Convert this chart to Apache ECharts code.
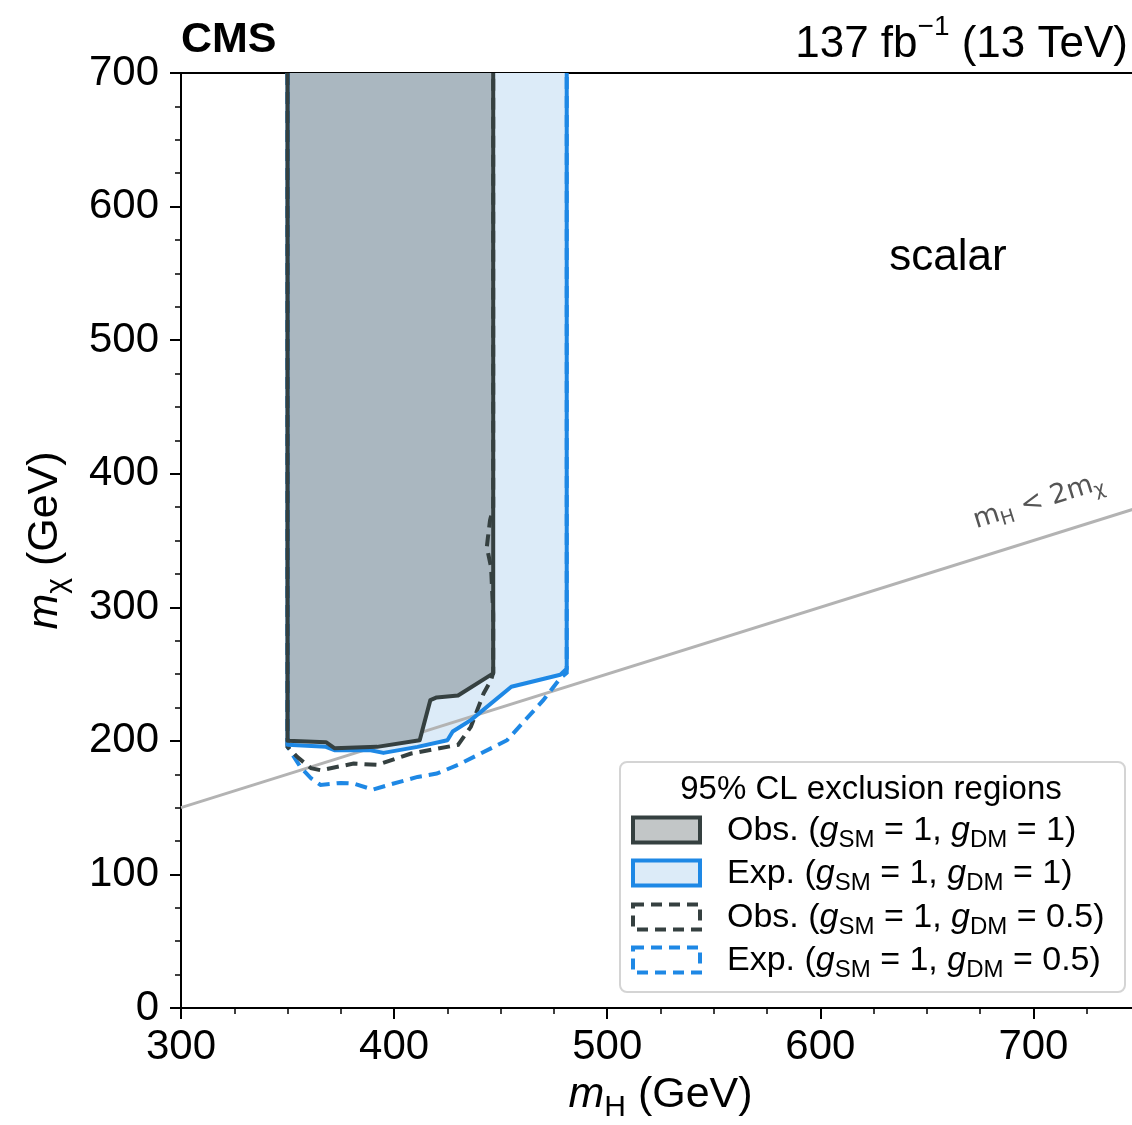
<!DOCTYPE html>
<html>
<head>
<meta charset="utf-8">
<title>Scalar mediator exclusion</title>
<script src="https://cdn.jsdelivr.net/npm/echarts@6/dist/echarts.min.js"></script>
<style>
  html, body { margin: 0; padding: 0; background: #fff; }
  #chart { width: 1132px; height: 1125px; }
</style>
</head>
<body>
<div id="chart"></div>
<script>
// Observed exclusion contour, g_SM = 1, g_DM = 1 (m_H, m_chi in GeV)
const obsG1_mH  = [350, 350, 368, 372, 392, 412, 417, 420, 430, 446.5, 446.5];
const obsG1_mX  = [700, 200, 199, 194.5, 195.5, 200.5, 230.5, 232.5, 234, 250.5, 700];

// Expected exclusion contour, g_SM = 1, g_DM = 1
const expG1_mH  = [350, 350, 368, 372, 389, 395, 411, 425, 427.5, 436, 455, 478, 481, 481];
const expG1_mX  = [700, 197, 195.5, 193, 193, 191, 195.5, 200.5, 207, 215.5, 240.5, 249.5, 254, 700];

// Observed exclusion contour, g_SM = 1, g_DM = 0.5
const obsG05_mH = [350, 350, 354.5, 361, 365.5, 381, 392, 408, 430, 436, 442, 445.5, 446.5, 446.5, 445.5, 443.5, 444, 445, 446.5, 446.5];
const obsG05_mX = [700, 195.5, 188, 179.5, 178, 183, 182, 190.5, 197, 210.5, 235.5, 245.5, 251, 295, 330, 345, 352, 365, 375, 700];

// Expected exclusion contour, g_SM = 1, g_DM = 0.5
const expG05_mH = [350, 350, 356, 361, 365.5, 375, 381, 390, 398.5, 411, 420, 430, 453, 470, 478, 481, 481];
const expG05_mX = [700, 195.5, 180.5, 172, 167, 168.5, 168, 163.5, 167.5, 173, 175.5, 182, 200.5, 230.5, 247, 251, 700];

// Kinematic boundary m_H = 2 m_chi
const kinLine_mH = [300, 750];
const kinLine_mX = [150, 375];

// Axis ticks
const xTicks = [300, 400, 500, 600, 700];
const yTicks = [0, 100, 200, 300, 400, 500, 600, 700];

const FONT = '"Liberation Sans", Arial, Helvetica, sans-serif';
const DARK = '#354040';
const BLUE = '#1e88e5';
const LW = 4;

const zip = (a, b) => a.map((v, i) => [v, b[i]]);

function shapeSeries(name, pts, kind, style, z) {
  return {
    name: name,
    type: 'custom',
    coordinateSystem: 'cartesian2d',
    xAxisIndex: 0,
    yAxisIndex: 0,
    clip: true,
    silent: true,
    z: z,
    data: pts,
    renderItem: function (params, api) {
      if (params.dataIndex !== 0) return null;
      const p = pts.map(d => api.coord(d));
      return { type: kind, shape: { points: p }, style: style };
    }
  };
}

// rich styles for "symbol + subscript" text (tokens aligned to line top,
// subscripts pushed down by a top padding)
function subRich(size, subSize, drop, color, family) {
  const f = family || FONT;
  const c = color || '#000';
  return {
    i: { fontFamily: f, fontSize: size, fontStyle: 'italic', color: c, fill: c, verticalAlign: 'top' },
    n: { fontFamily: f, fontSize: size, color: c, fill: c, verticalAlign: 'top' },
    s: { fontFamily: f, fontSize: subSize, color: c, fill: c, verticalAlign: 'top',
         padding: [Math.round(size / 2 - subSize / 2 + drop), 0, 0, 0] }
  };
}

const chart = echarts.init(document.getElementById('chart'), null, { renderer: 'canvas' });

const legendRich = subRich(34, 24, 10);
function legendLabel(kind, dm) {
  return '{n|' + kind + ' (}{i|g}{s|SM}{n| = 1, }{i|g}{s|DM}{n| = ' + dm + ')}';
}

const legendRows = [
  { y: 830, label: legendLabel('Obs.', '1'), stroke: DARK, fill: '#c2c6c7', dash: null },
  { y: 873, label: legendLabel('Exp.', '1'), stroke: BLUE, fill: '#dcebf8', dash: null },
  { y: 917, label: legendLabel('Obs.', '0.5'), stroke: DARK, fill: 'none', dash: [11, 7] },
  { y: 960, label: legendLabel('Exp.', '0.5'), stroke: BLUE, fill: 'none', dash: [11, 7] }
];

const graphics = [
  { type: 'text', x: 181, y: 40, z: 100,
    style: { text: 'CMS', fontFamily: FONT, fontWeight: 'bold', fontSize: 43, fill: '#000', align: 'left', verticalAlign: 'middle' } },
  { type: 'text', x: 1128, y: 40, z: 100,
    style: { text: '{n|137 fb}{p|\u22121}{n| (13 TeV)}', align: 'right', verticalAlign: 'middle',
      rich: {
        n: { fontFamily: FONT, fontSize: 44, fill: '#000', verticalAlign: 'top', padding: [9, 0, 0, 0] },
        p: { fontFamily: FONT, fontSize: 28, fill: '#000', verticalAlign: 'top' }
      } } },
  { type: 'text', x: 948, y: 258, z: 100,
    style: { text: 'scalar', fontFamily: FONT, fontSize: 44, fill: '#000', align: 'center', verticalAlign: 'middle' } },
  { type: 'text', x: 1039, y: 503, z: 100, rotation: 0.302,
    style: { text: '{n|m}{s|H}{n| < 2m}{s|\u03c7}', align: 'center', verticalAlign: 'middle',
      rich: subRich(27, 19, 7, '#555', '"DejaVu Sans", sans-serif') } },
  // legend frame
  { type: 'rect', z: 100,
    shape: { x: 620, y: 762, width: 505, height: 230, r: 7 },
    style: { fill: 'rgba(255,255,255,0.85)', stroke: '#d4d4d4', lineWidth: 2 } },
  { type: 'text', x: 871, y: 790, z: 101,
    style: { text: '95% CL exclusion regions', fontFamily: FONT, fontSize: 33, fill: '#000', align: 'center', verticalAlign: 'middle' } }
];

legendRows.forEach(r => {
  graphics.push({ type: 'rect', z: 101,
    shape: { x: 633, y: r.y - 12.5, width: 67, height: 25 },
    style: { fill: r.fill, stroke: r.stroke, lineWidth: LW, lineDash: r.dash } });
  graphics.push({ type: 'text', x: 727, y: r.y + 3, z: 101,
    style: { text: r.label, align: 'left', verticalAlign: 'middle', rich: legendRich } });
});

const option = {
  animation: false,
  backgroundColor: '#fff',
  grid: { left: 181, right: -8, top: 73, bottom: 117, containLabel: false, outerBoundsMode: 'none' },
  xAxis: [
    {
      type: 'value', position: 'bottom', min: 300, max: 750, interval: 100,
      axisLine: { show: true, onZero: false, lineStyle: { color: '#000', width: 2 } },
      axisTick: { show: true, inside: false, length: 11, lineStyle: { color: '#000', width: 2 } },
      minorTick: { show: true, splitNumber: 4, length: 6, lineStyle: { color: '#000', width: 1.5 } },
      axisLabel: { show: true, fontFamily: FONT, fontSize: 42, color: '#000', margin: 18, showMaxLabel: false,
        formatter: v => (xTicks.indexOf(v) >= 0 ? String(v) : '') },
      splitLine: { show: false },
      name: '{i|m}{s|H}{n| (GeV)}', nameLocation: 'middle', nameGap: 66,
      nameTextStyle: { fontFamily: FONT, fontSize: 43, color: '#000', rich: subRich(43, 30, 12) }
    },
    {
      type: 'value', position: 'top', min: 300, max: 750, interval: 100,
      axisLine: { show: true, onZero: false, lineStyle: { color: '#000', width: 2 } },
      axisTick: { show: false }, axisLabel: { show: false }, splitLine: { show: false }
    }
  ],
  yAxis: [
    {
      type: 'value', position: 'left', min: 0, max: 700, interval: 100,
      axisLine: { show: true, onZero: false, lineStyle: { color: '#000', width: 2 } },
      axisTick: { show: true, inside: false, length: 11, lineStyle: { color: '#000', width: 2 } },
      minorTick: { show: true, splitNumber: 4, length: 6, lineStyle: { color: '#000', width: 1.5 } },
      axisLabel: { show: true, fontFamily: FONT, fontSize: 42, color: '#000', margin: 22,
        formatter: v => (yTicks.indexOf(v) >= 0 ? String(v) : '') },
      splitLine: { show: false },
      name: '{i|m}{s|\u03c7}{n| (GeV)}', nameLocation: 'middle', nameGap: 108,
      nameTextStyle: { fontFamily: FONT, fontSize: 43, color: '#000', rich: subRich(43, 30, 12) }
    }
  ],
  series: [
    shapeSeries('Exp. fill', zip(expG1_mH, expG1_mX), 'polygon', { fill: '#dcebf8', stroke: 'none' }, 1),
    {
      name: 'kinematic', type: 'line', xAxisIndex: 0, yAxisIndex: 0, z: 2, silent: true,
      showSymbol: false, symbol: 'none', clip: true,
      data: zip(kinLine_mH, kinLine_mX),
      lineStyle: { color: '#b3b3b3', width: 3 }
    },
    shapeSeries('Obs. fill', zip(obsG1_mH, obsG1_mX), 'polygon', { fill: '#aab7c0', stroke: 'none' }, 3),
    shapeSeries('Exp. g_DM=0.5', zip(expG05_mH, expG05_mX), 'polyline',
      { fill: 'none', stroke: BLUE, lineWidth: LW, lineDash: [12, 7] }, 4),
    shapeSeries('Obs. g_DM=0.5', zip(obsG05_mH, obsG05_mX), 'polyline',
      { fill: 'none', stroke: DARK, lineWidth: LW, lineDash: [12, 7] }, 5),
    shapeSeries('Exp. g_DM=1', zip(expG1_mH, expG1_mX), 'polyline',
      { fill: 'none', stroke: BLUE, lineWidth: LW, lineJoin: 'round' }, 6),
    shapeSeries('Obs. g_DM=1', zip(obsG1_mH, obsG1_mX), 'polyline',
      { fill: 'none', stroke: DARK, lineWidth: LW, lineJoin: 'round' }, 7)
  ],
  graphic: graphics
};

chart.setOption(option);
</script>
</body>
</html>
